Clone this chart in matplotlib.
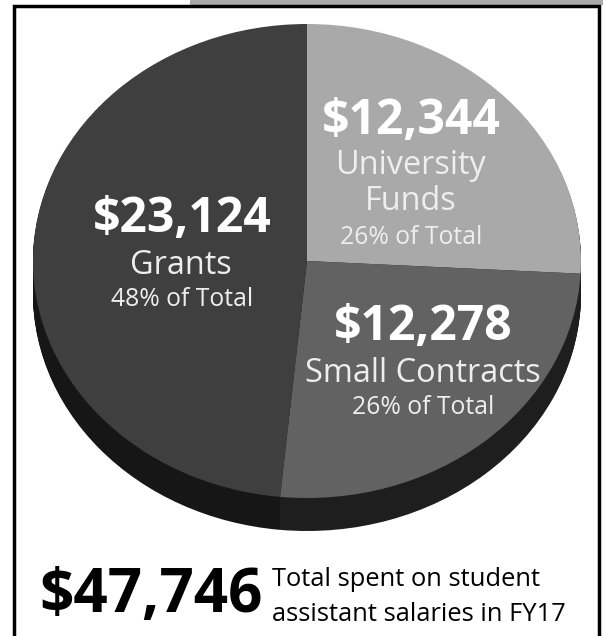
import matplotlib
matplotlib.use('Agg')
import matplotlib.pyplot as plt
from matplotlib.patches import Rectangle

W, H = 603, 636
values = [12344, 12278, 23124]
amounts = ['$12,344', '$12,278', '$23,124']
names = ['University\nFunds', 'Small Contracts', 'Grants']
shares = ['26% of Total', '26% of Total', '48% of Total']
top_colors = ['#a9a9a9', '#626262', '#3f3f3f']
side_colors = ['#1e1e1e', '#1e1e1e', '#161616']
total_text = '$47,746'
caption = 'Total spent on student\nassistant salaries in FY17'

plt.rcParams['font.family'] = ['Open Sans', 'DejaVu Sans']
fig = plt.figure(figsize=(W/100, H/100), dpi=100, facecolor='white')

# background frame, in pixel coordinates
back = fig.add_axes([0, 0, 1, 1], zorder=0)
back.set_xlim(0, W); back.set_ylim(H, 0); back.axis('off')
back.add_patch(Rectangle((190, 0), W-190, 5, color='#a9a9a9', lw=0))
back.add_patch(Rectangle((13.5, 5.5), 585, H+10, fc='white', ec='black', lw=2.5))

# Pie: ellipse centre (307, 261), radii 274 x 237, depth 33
cx, cy, rx, ry, depth = 307, 261, 274, 237, 33
ax = fig.add_axes([(cx-rx)/W, 1-(cy+ry+depth)/H, 2*rx/W, (2*ry+depth)/H], zorder=1)
ax.patch.set_alpha(0)
for d in range(depth, 0, -1):
    ax.pie(values, colors=side_colors, startangle=90, counterclock=False,
           center=(0, -d/ry), radius=1, frame=True)
ax.pie(values, colors=top_colors, startangle=90, counterclock=False,
       center=(0, 0), radius=1, frame=True)
ax.set_aspect('auto')
ax.set_xlim(-1, 1); ax.set_ylim(-1-depth/ry, 1)
ax.axis('off')

# Text layer on top
page = fig.add_axes([0, 0, 1, 1], zorder=2)
page.set_xlim(0, W); page.set_ylim(H, 0); page.axis('off')
page.patch.set_alpha(0)

amount_xy = [(411, 121), (423, 328), (182, 220)]
name_xy = [(411, 184), (423, 374), (181, 265)]
share_xy = [(411, 238), (423, 408), (182, 300)]
for (a, n, s, pa, pn, ps) in zip(amounts, names, shares, amount_xy, name_xy, share_xy):
    page.text(*pa, a, color='white', fontsize=34.7, fontweight='bold', ha='center', va='center')
    page.text(*pn, n, color='#eeeeee', fontsize=23.4, ha='center', va='center', linespacing=1.12)
    page.text(*ps, s, color='#eeeeee', fontsize=17.8, ha='center', va='center')

page.text(151, 596, total_text, color='black', fontsize=43.3, fontweight='bold', ha='center', va='center')
page.text(272, 597, caption, color='black', fontsize=18.4, ha='left', va='center', linespacing=1.48)

fig.savefig('out.png', dpi=100)
